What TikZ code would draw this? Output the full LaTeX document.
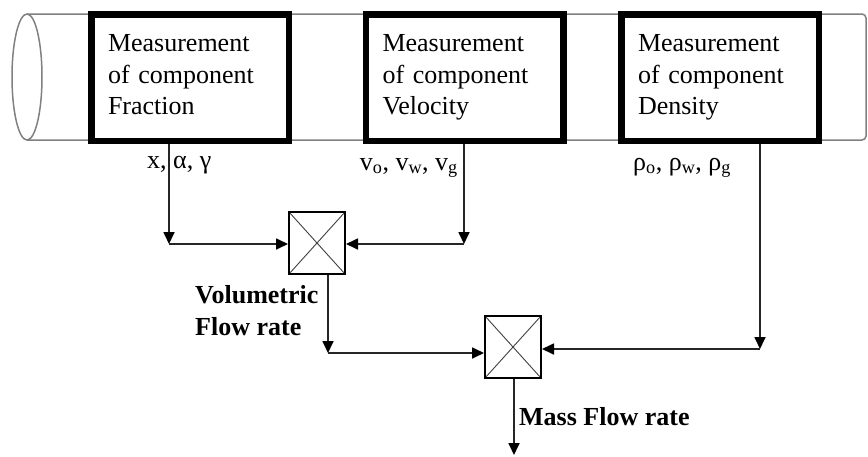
\documentclass[tikz,border=0pt]{standalone}
\usepackage{fontspec}
\setmainfont{Liberation Serif}
\usetikzlibrary{arrows.meta}
\begin{document}
\begin{tikzpicture}[x=1pt,y=-1pt,
  txt/.style={font=\fontsize{26pt}{31.5pt}\selectfont, inner sep=0pt},
  measbox/.style={draw, fill=white, line width=6.5pt, minimum width=197.5pt, minimum height=126.5pt,
     inner xsep=16.75pt, inner ysep=0pt, text width=164pt, align=left,
     font=\fontsize{26pt}{31.5pt}\selectfont},
  multbox/.style={draw, line width=2pt, minimum width=56pt, minimum height=62pt, inner sep=0pt,
     path picture={\draw[line width=0.9pt, black!75]
        (path picture bounding box.north west) -- (path picture bounding box.south east)
        (path picture bounding box.north east) -- (path picture bounding box.south west);}},
  pipe/.style={draw=black!50, line width=1.5pt},
  conn/.style={draw=black!85, line width=1.7pt, -{Triangle[length=12pt,width=11pt,black]}},
  bold/.style={txt, font=\fontsize{26pt}{32pt}\selectfont\bfseries}
]
\useasboundingbox (0,0) rectangle (868,456);
% pipe
\draw[pipe] (27,77) ellipse [x radius=15pt, y radius=63pt];
\draw[pipe, rounded corners=4pt] (27,14) -- (866,14) -- (866,140) -- (27,140);
% measurement boxes
\node[measbox] (fb) at (190,77.5) {Measurement\\of component\\Fraction\vphantom{y}};
\node[measbox] (vb) at (464.5,77.5) {Measurement\\of component\\Velocity};
\node[measbox] (db) at (720,77.5) {Measurement\\of component\\Density};
% multipliers
\node[multbox] (m1) at (317,243) {};
\node[multbox] (m2) at (513,347) {};
% corners
\coordinate (c1) at (169,244);
\coordinate (c2) at (464,244);
\coordinate (c3) at (328,353);
\coordinate (c4) at (760,349);
\coordinate (out) at (514,455);
% connectors
\draw[conn] (c1 |- fb.south) -- (c1);
\draw[conn] (c1) -- (c1 -| m1.west);
\draw[conn] (c2 |- vb.south) -- (c2);
\draw[conn] (c2) -- (c2 -| m1.east);
\draw[conn] (c3 |- m1.south) -- (c3);
\draw[conn] (c3) -- (c3 -| m2.west);
\draw[conn] (c4 |- db.south) -- (c4);
\draw[conn] (c4) -- (c4 -| m2.east);
\draw[conn] (m2.south -| out) -- (out);
% labels
\node[txt, anchor=base west] (lx) at (147,168) {x, α, γ};
\node[txt, anchor=base east] (lv) at (458,170) {v\textsubscript{o}, v\textsubscript{w}, v\textsubscript{g}};
\node[txt, anchor=base west] (lr) at (633,170) {ρ\textsubscript{o}, ρ\textsubscript{w}, ρ\textsubscript{g}};
\node[bold, anchor=north west, align=left] (lvol) at (195,285) {Volumetric\\Flow rate};
\node[bold, anchor=base west] (lmass) at (519,425) {Mass Flow rate};
\end{tikzpicture}
\end{document}
